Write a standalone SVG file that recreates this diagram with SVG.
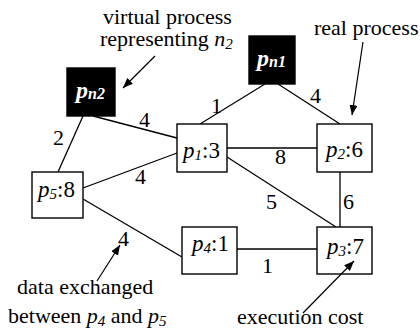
<svg xmlns="http://www.w3.org/2000/svg" width="420" height="332" viewBox="0 0 420 332" font-family="'Liberation Serif', 'DejaVu Serif', serif">
  <style>
    .box { fill: #fff; stroke: #000; stroke-width: 1.4; }
    .vbox { fill: #000; stroke: #000; stroke-width: 1.4; }
    .edge { stroke: #000; stroke-width: 1.3; fill: none; }
    .ptr { stroke: #000; stroke-width: 1.2; fill: none; marker-end: url(#head); }
    text, tspan { font-family: 'Liberation Serif', 'DejaVu Serif', serif; }
    text { fill: #000; }
    .lbl { font-size: 22px; }
    .w { font-size: 22px; }
    .node { font-size: 23px; }
    .it { font-style: italic; }
    .sub { font-size: 15px; font-style: italic; }
    .vnode { font-size: 24px; font-style: italic; font-weight: bold; fill: #fff; }
    .vsub { font-size: 16px; font-style: italic; font-weight: bold; fill: #fff; }
  </style>
  <defs>
    <marker id="head" markerUnits="userSpaceOnUse" markerWidth="11" markerHeight="8" refX="10" refY="4" orient="auto">
      <path d="M0,0 L10,4 L0,8 z" fill="#000"/>
    </marker>
  </defs>

  <!-- connectors -->
  <g id="connectors">
    <line class="edge" x1="83" y1="116" x2="58" y2="172"/>
    <line class="edge" x1="93" y1="116" x2="177" y2="138"/>
    <line class="edge" x1="265" y1="84" x2="200" y2="124"/>
    <line class="edge" x1="278" y1="84" x2="340" y2="124"/>
    <line class="edge" x1="227" y1="148" x2="317" y2="148"/>
    <line class="edge" x1="227" y1="157" x2="336" y2="227"/>
    <line class="edge" x1="83" y1="188" x2="177" y2="153"/>
    <line class="edge" x1="83" y1="199" x2="182" y2="257"/>
    <line class="edge" x1="340" y1="172" x2="340" y2="227"/>
    <line class="edge" x1="237" y1="249" x2="317" y2="249"/>
  </g>

  <!-- edge weights -->
  <g id="weights" class="w">
    <text x="53" y="145">2</text>
    <text x="139" y="127">4</text>
    <text x="211" y="113">1</text>
    <text x="310" y="103">4</text>
    <text x="275" y="164">8</text>
    <text x="135" y="184">4</text>
    <text x="118" y="246">4</text>
    <text x="266" y="209">5</text>
    <text x="343" y="209">6</text>
    <text x="262" y="273">1</text>
  </g>

  <!-- virtual processes -->
  <g id="pn2">
    <rect class="vbox" x="67" y="68" width="48" height="48"/>
    <text x="76" y="98"><tspan class="vnode">p</tspan><tspan class="vsub" dy="1">n2</tspan></text>
  </g>
  <g id="pn1">
    <rect class="vbox" x="249" y="36" width="46" height="48"/>
    <text x="257" y="66"><tspan class="vnode">p</tspan><tspan class="vsub" dy="1">n1</tspan></text>
  </g>

  <!-- real processes -->
  <g id="p1">
    <rect class="box" x="177" y="124" width="50" height="48"/>
    <text class="node" x="183" y="158"><tspan class="it">p</tspan><tspan class="sub" dy="2">1</tspan><tspan dy="-2">:3</tspan></text>
  </g>
  <g id="p2">
    <rect class="box" x="317" y="124" width="55" height="48"/>
    <text class="node" x="326" y="157"><tspan class="it">p</tspan><tspan class="sub" dy="2">2</tspan><tspan dy="-2">:6</tspan></text>
  </g>
  <g id="p3">
    <rect class="box" x="317" y="227" width="55" height="47"/>
    <text class="node" x="327" y="254"><tspan class="it">p</tspan><tspan class="sub" dy="2">3</tspan><tspan dy="-2">:7</tspan></text>
  </g>
  <g id="p4">
    <rect class="box" x="182" y="227" width="55" height="47"/>
    <text class="node" x="192" y="251"><tspan class="it">p</tspan><tspan class="sub" dy="2">4</tspan><tspan dy="-2">:1</tspan></text>
  </g>
  <g id="p5">
    <rect class="box" x="32" y="172" width="51" height="46"/>
    <text class="node" x="38" y="197"><tspan class="it">p</tspan><tspan class="sub" dy="2">5</tspan><tspan dy="-2">:8</tspan></text>
  </g>

  <!-- annotations -->
  <g id="annotations" class="lbl">
    <text x="103" y="24">virtual process</text>
    <text x="100" y="46">representing <tspan class="it">n</tspan><tspan class="sub" dy="3">2</tspan></text>
    <line class="ptr" x1="155" y1="56" x2="123" y2="88"/>

    <text x="314" y="35">real process</text>
    <line class="ptr" x1="363" y1="42" x2="352" y2="115"/>

    <text x="17" y="294">data exchanged</text>
    <text x="8" y="323">between <tspan class="it">p</tspan><tspan class="sub" dy="3">4</tspan><tspan dy="-3"> and </tspan><tspan class="it">p</tspan><tspan class="sub" dy="3">5</tspan></text>
    <line class="ptr" x1="97" y1="281" x2="120" y2="245"/>

    <text x="237" y="324">execution cost</text>
    <line class="ptr" x1="303" y1="313" x2="354" y2="261"/>
  </g>
</svg>
